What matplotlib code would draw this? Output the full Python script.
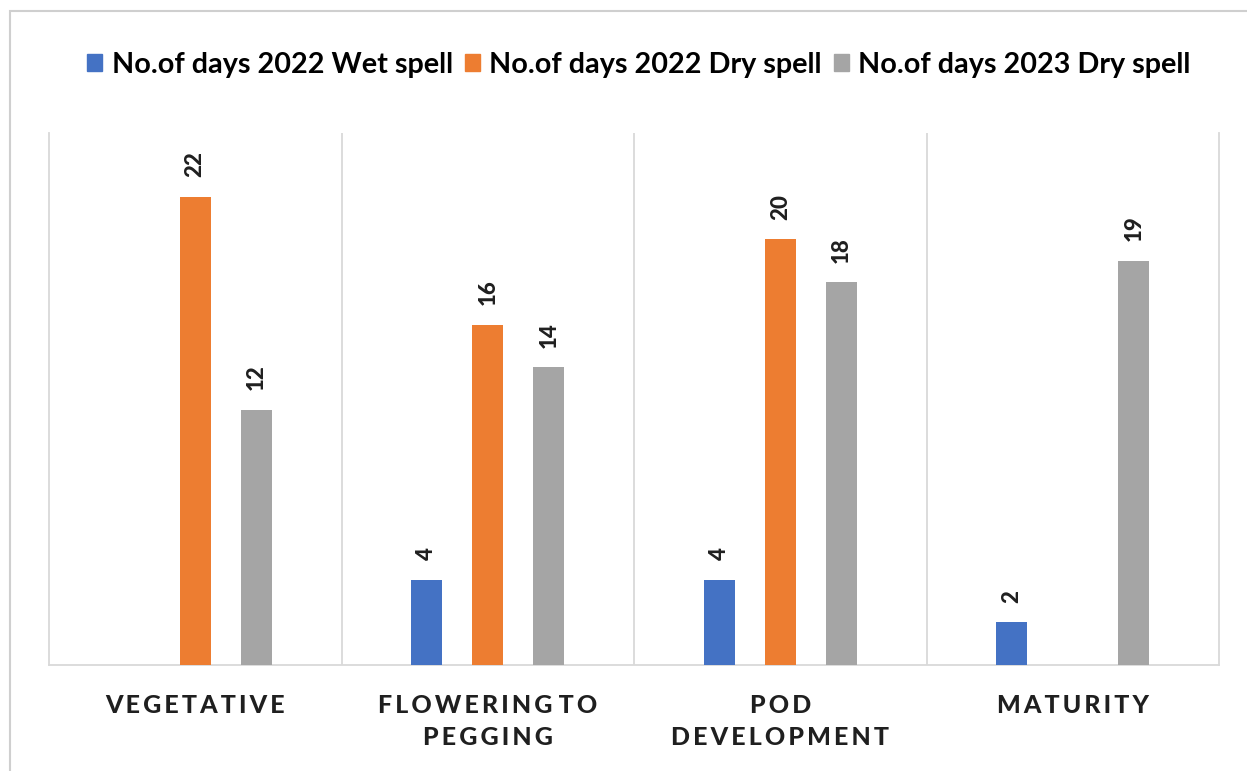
import matplotlib
matplotlib.use("Agg")
import matplotlib.pyplot as plt
import numpy as np
from matplotlib.patches import Rectangle

categories = ["VEGETATIVE", "FLOWERING TO\nPEGGING", "POD\nDEVELOPMENT", "MATURITY"]
series_names = ["No.of days 2022 Wet spell", "No.of days 2022 Dry spell", "No.of days 2023 Dry spell"]
wet_2022 = [0, 4, 4, 2]
dry_2022 = [22, 16, 20, 0]
dry_2023 = [12, 14, 18, 19]
colors = ["#4472C4", "#ED7D31", "#A5A5A5"]

FONT = ["Lato", "DejaVu Sans"]
plt.rcParams["font.family"] = FONT

fig = plt.figure(figsize=(12.47, 7.71), dpi=100)
ax = fig.add_axes([49/1247, 1-665/771, (1219-49)/1247, (665-133)/771])

x = np.arange(len(categories))
width = 0.106
offsets = [-0.209, 0.0, 0.209]
grid_c = "#D9D9D9"
for vals, off, col, name in zip([wet_2022, dry_2022, dry_2023], offsets, colors, series_names):
    bars = ax.bar(x + off, vals, width, color=col, label=name, zorder=3)
    for b, v in zip(bars, vals):
        if v > 0:
            ax.annotate(str(v), (b.get_x() + b.get_width()/2, b.get_height()),
                        xytext=(0, 14), textcoords="offset points",
                        rotation=90, ha="center", va="bottom",
                        fontsize=16, fontweight="black", color="#1F1F1F")

ax.set_xlim(-0.5, len(categories) - 0.5)
ax.set_ylim(0, 25)
ax.set_yticks([])
for b in np.arange(0.5, len(categories) - 0.5, 1.0):
    ax.axvline(b, color=grid_c, lw=1.3, zorder=1)
for s in ["left", "right", "bottom"]:
    ax.spines[s].set_color(grid_c)
    ax.spines[s].set_linewidth(1.3)
ax.spines["top"].set_visible(False)

TS = "\u2009"
spaced = [TS.join(list(c)).replace(TS + "\n" + TS, "\n").replace(TS + " " + TS, TS * 2)
          for c in categories]
ax.set_xticks(x)
ax.set_xticklabels(spaced, fontsize=18, fontweight="black", color="#1F1F1F", linespacing=1.45)
ax.tick_params(axis="x", length=0, pad=21)

handles = [Rectangle((0, 0), 1, 1, color=c) for c in colors]
fig.legend(handles, series_names, loc="center", bbox_to_anchor=(0.5125, 1-65/771), ncol=3,
           frameon=False, handlelength=0.52, handleheight=0.52,
           handletextpad=0.33, columnspacing=0.42, prop={"weight": "bold", "size": 20.7})

fig.patches.append(Rectangle((10/1247, -0.1), 1.2, 1-11/771+0.1, transform=fig.transFigure,
                             fill=False, edgecolor="#CFCFCF", lw=1.5, clip_on=False))

fig.savefig("out.png", dpi=100, facecolor="white")
